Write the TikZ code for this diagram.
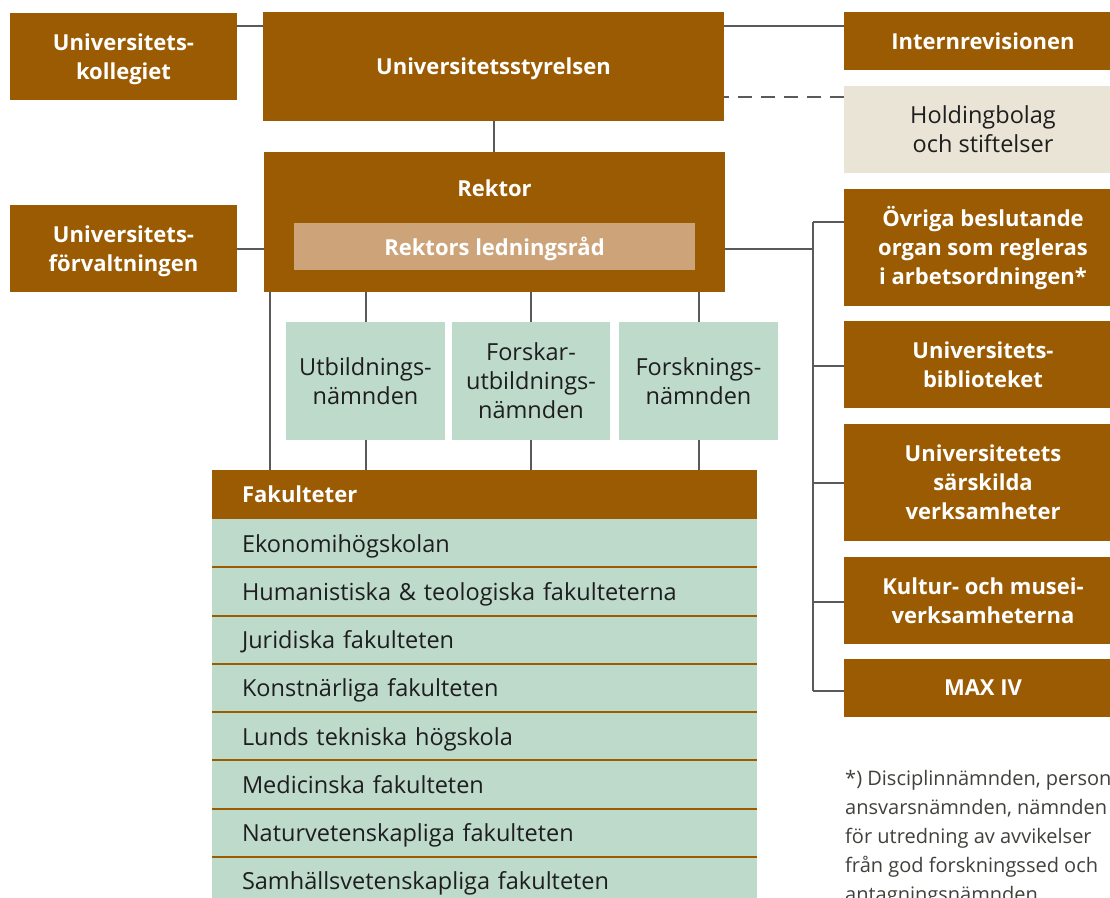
\documentclass[tikz,border=0pt]{standalone}
\usepackage{fontspec}
\setmainfont{Open Sans}
\usetikzlibrary{calc}
\definecolor{brn}{RGB}{155,91,3}
\definecolor{grn}{RGB}{190,218,203}
\definecolor{ledc}{RGB}{205,164,122}
\definecolor{holdc}{RGB}{234,228,214}
\definecolor{lin}{RGB}{90,90,90}
\definecolor{txt}{RGB}{30,30,30}
\definecolor{fnc}{RGB}{64,64,60}
\begin{document}
\begin{tikzpicture}[x=1pt,y=-1pt,
  box/.style={draw=none, inner sep=0pt, align=center, text depth=0pt, font=\fontsize{23.5}{29}\selectfont},
  bfont/.style={font=\bfseries\fontsize{22}{29}\selectfont},
  bbox/.style={box, fill=brn, text=white, bfont},
  gbox/.style={box, fill=grn, text=txt},
  row/.style={box, fill=grn, text=txt, minimum width=545pt, minimum height=48.25pt, text width=485pt, inner xsep=30pt, align=left},
  conn/.style={draw=lin, line width=2pt},
  sepline/.style={draw=brn, line width=2pt}]
\useasboundingbox (0,0) rectangle (1110,897);
\clip (0,0) rectangle (1110,897);

% left column
\node[bbox, minimum width=227pt, minimum height=87pt] (kol) at (123.5,56.5) {Universitets-\\kollegiet};
\node[bbox, minimum width=227pt, minimum height=87pt] (forv) at (123.5,248.5) {Universitets-\\förvaltningen};

% centre
\node[bbox, minimum width=461pt, minimum height=109pt] (sty) at (493.5,66.5) {Universitetsstyrelsen};
\node[bbox, minimum width=461pt, minimum height=140pt] (rek) at (494.5,222) {};
\node[box, text=white, bfont] (rektxt) at (494.5,188) {Rektor};
\node[box, fill=ledc, text=white, bfont, minimum width=401pt, minimum height=47pt] (led) at (494.5,246.5) {Rektors ledningsråd};

% committees
\node[gbox, minimum width=159pt, minimum height=118pt] (utb) at (365.5,381) {Utbildnings-\\nämnden};
\node[gbox, minimum width=158pt, minimum height=118pt] (fub) at (531,381) {Forskar-\\utbildnings-\\nämnden};
\node[gbox, minimum width=159pt, minimum height=118pt] (fon) at (698.5,381) {Forsknings-\\nämnden};

% faculties
\node[box, fill=brn, text=white, bfont, minimum width=545pt, minimum height=49pt, text width=485pt, inner xsep=30pt, align=left] (fak) at (484.5,494.5) {Fakulteter};
\node[row] (r1) at (484.5,543.1) {Ekonomihögskolan};
\node[row] (r2) at (484.5,591.4) {Humanistiska \& teologiska fakulteterna};
\node[row] (r3) at (484.5,639.6) {Juridiska fakulteten};
\node[row] (r4) at (484.5,687.9) {Konstnärliga fakulteten};
\node[row] (r5) at (484.5,736.1) {Lunds tekniska högskola};
\node[row] (r6) at (484.5,784.4) {Medicinska fakulteten};
\node[row] (r7) at (484.5,832.6) {Naturvetenskapliga fakulteten};
\node[row] (r8) at (484.5,880.9) {Samhällsvetenskapliga fakulteten};
\foreach \r in {r1,r2,r3,r4,r5,r6,r7}{\draw[sepline] (\r.south west) -- (\r.south east);}

% right column
\node[bbox, minimum width=278pt, minimum height=58pt] (intern) at (983,41) {Internrevisionen};
\node[box, fill=holdc, text=txt, minimum width=278pt, minimum height=87pt] (hold) at (983,129.5) {Holdingbolag\\och stiftelser};
\node[bbox, text depth=4pt, minimum width=278pt, minimum height=117pt] (ovr) at (983,247.5) {Övriga beslutande\\organ som regleras\\i arbetsordningen*};
\node[bbox, minimum width=278pt, minimum height=87pt] (bib) at (983,364.5) {Universitets-\\biblioteket};
\node[bbox, minimum width=278pt, minimum height=117pt] (sar) at (983,482.5) {Universitetets\\särskilda\\verksamheter};
\node[bbox, minimum width=278pt, minimum height=87pt] (kul) at (983,600.5) {Kultur- och musei-\\verksamheterna};
\node[bbox, minimum width=278pt, minimum height=58pt] (max) at (983,688) {MAX IV};

% footnote
\node[box, text=fnc, align=left, anchor=north west, font=\fontsize{20}{29}\selectfont] (fn) at (845,770) {*) Disciplinnämnden, person\\ansvarsnämnden, nämnden\\för utredning av avvikelser\\från god forskningssed och\\antagningsnämnden.};

% connectors
\draw[conn] (kol.north east) ++(0,13) coordinate (a1) -- (a1 -| sty.west);
\draw[conn] (intern.north west) ++(0,14) coordinate (a2) -- (a2 -| sty.east);
\draw[conn, dash pattern=on 14pt off 9pt] (hold.north west) ++(0,11) coordinate (a3) -- (a3 -| sty.east);
\draw[conn] (sty.south) -- (sty.south |- rek.north);
\draw[conn] (forv.east) -- (forv.east -| rek.west);
\coordinate (t1) at (813,222);
\coordinate (t5) at (813,691);
\draw[conn] (rek.east |- 0,249) -- (813,249);
\draw[conn] (t1) -- (t5);
\draw[conn] (t1) -- (t1 -| ovr.west);
\draw[conn] (813,366) coordinate (t2) -- (t2 -| bib.west);
\draw[conn] (813,483) coordinate (t3) -- (t3 -| sar.west);
\draw[conn] (813,602) coordinate (t4) -- (t4 -| kul.west);
\draw[conn] (t5) -- (t5 -| max.west);
\foreach \c in {utb,fub,fon}{
  \draw[conn] (\c.north) -- (\c.north |- rek.south);
  \draw[conn] (\c.south) -- (\c.south |- fak.north);
}
\draw[conn] ([xshift=6pt]rek.south west) -- ([xshift=6pt]rek.south west |- fak.north);
\end{tikzpicture}
\end{document}
